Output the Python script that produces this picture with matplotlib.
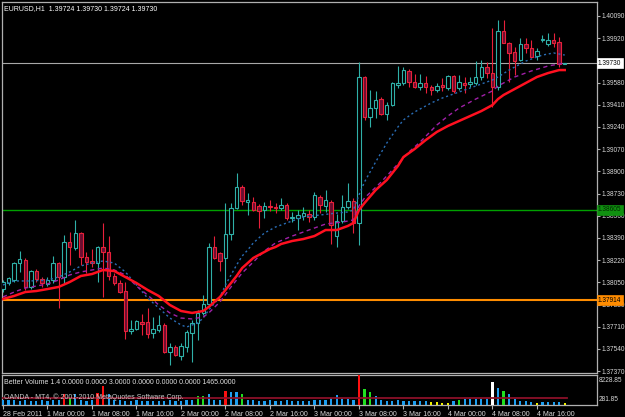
import matplotlib
matplotlib.use("Agg")
import matplotlib.pyplot as plt
import numpy as np

# ---------------- data ----------------
symbol_header = "EURUSD,H1  1.39724 1.39730 1.39724 1.39730"
opens = [1.38000,1.38045,1.38068,1.38198,1.38221,1.38015,1.38137,1.38076,1.38037,1.38068,
         1.38198,1.38091,1.38359,1.38313,1.38428,1.38244,1.38214,1.38198,1.38321,1.38283,
         1.38099,1.38045,1.37984,1.37677,1.37693,1.37747,1.37747,1.37662,1.37685,1.37724,
         1.37517,1.37555,1.37486,1.37555,1.37662,1.37739,1.37815,1.37884,1.38321,1.38275,
         1.38237,1.38421,1.38620,1.38781,1.38666,1.38666,1.38635,1.38604,1.38635,1.38627,
         1.38620,1.38643,1.38543,1.38543,1.38558,1.38574,1.38551,1.38704,1.38635,1.38666,
         1.38405,1.38520,1.38627,1.38673,1.38505,1.39623,1.39317,1.39386,1.39455,1.39340,
         1.39409,1.39562,1.39577,1.39669,1.39585,1.39547,1.39577,1.39547,1.39524,1.39562,
         1.39539,1.39631,1.39539,1.39577,1.39570,1.39577,1.39623,1.39700,1.39654,1.39547,
         1.39976,1.39884,1.39815,1.39753,1.39876,1.39845,1.39784,1.39907,1.39876,1.39907,
         1.39891,1.39724]
highs = [1.38068,1.38091,1.38206,1.38290,1.38237,1.38145,1.38153,1.38091,1.38091,1.38252,
         1.38206,1.38413,1.38436,1.38528,1.38436,1.38283,1.38306,1.38329,1.38505,1.38405,
         1.38122,1.38068,1.38053,1.37762,1.37762,1.37808,1.37853,1.37785,1.37800,1.37739,
         1.37586,1.37570,1.37586,1.37685,1.37762,1.37838,1.37953,1.38352,1.38405,1.38283,
         1.38658,1.38658,1.38888,1.38796,1.38735,1.38704,1.38650,1.38666,1.38681,1.38658,
         1.38696,1.38658,1.38589,1.38604,1.38627,1.38604,1.38742,1.38719,1.38758,1.38681,
         1.38574,1.38719,1.38811,1.38696,1.39738,1.39631,1.39524,1.39516,1.39470,1.39432,
         1.39585,1.39707,1.39700,1.39684,1.39646,1.39646,1.39631,1.39562,1.39577,1.39616,
         1.39639,1.39639,1.39639,1.39623,1.39623,1.39746,1.39753,1.39738,1.39998,1.40060,
         1.40060,1.39891,1.39853,1.39922,1.39922,1.39907,1.39845,1.39945,1.39960,1.39960,
         1.39930,1.39730]
lows = [1.37977,1.38030,1.38053,1.38130,1.37992,1.38000,1.38053,1.38015,1.38022,1.38045,
        1.37853,1.38045,1.38183,1.38298,1.38183,1.38122,1.38168,1.38053,1.37938,1.38068,
        1.38030,1.37969,1.37616,1.37654,1.37685,1.37647,1.37624,1.37624,1.37670,1.37509,
        1.37417,1.37486,1.37455,1.37517,1.37440,1.37609,1.37800,1.37877,1.38229,1.38137,
        1.38015,1.38375,1.38612,1.38643,1.38566,1.38597,1.38467,1.38543,1.38597,1.38581,
        1.38604,1.38528,1.38513,1.38451,1.38528,1.38513,1.38528,1.38581,1.38589,1.38344,
        1.38321,1.38505,1.38612,1.38428,1.38336,1.39294,1.39240,1.39309,1.39332,1.39294,
        1.39401,1.39539,1.39562,1.39547,1.39539,1.39524,1.39501,1.39486,1.39509,1.39516,
        1.39524,1.39501,1.39524,1.39501,1.39547,1.39562,1.39600,1.39616,1.39393,1.39524,
        1.39884,1.39585,1.39639,1.39746,1.39807,1.39776,1.39753,1.39891,1.39861,1.39853,
        1.39700,1.39724]
closes = [1.38053,1.38083,1.38198,1.38229,1.38015,1.38137,1.38076,1.38045,1.38068,1.38198,
          1.38091,1.38359,1.38321,1.38428,1.38244,1.38206,1.38198,1.38321,1.38283,1.38099,
          1.38045,1.37977,1.37677,1.37693,1.37754,1.37731,1.37654,1.37693,1.37724,1.37517,
          1.37555,1.37494,1.37563,1.37670,1.37739,1.37815,1.37884,1.38321,1.38237,1.38214,
          1.38421,1.38620,1.38781,1.38673,1.38681,1.38604,1.38597,1.38635,1.38627,1.38620,
          1.38643,1.38543,1.38551,1.38566,1.38581,1.38551,1.38719,1.38643,1.38681,1.38490,
          1.38520,1.38627,1.38673,1.38505,1.39623,1.39317,1.39386,1.39447,1.39340,1.39409,
          1.39577,1.39577,1.39677,1.39585,1.39547,1.39577,1.39547,1.39524,1.39554,1.39547,
          1.39631,1.39516,1.39585,1.39562,1.39585,1.39623,1.39700,1.39654,1.39547,1.39976,
          1.39884,1.39807,1.39746,1.39876,1.39845,1.39776,1.39822,1.39914,1.39907,1.39884,
          1.39723,1.39730]

# moving averages (bar index -> price)
fast_ma_idx = [0,2,5,8,10,12,14,16,18,20,22,24,26,28,30,32,33,35,36,37,39,40,41,42,43,44,45,47,49,51,
               54,57,60,62,63,64,65,67,69,71,72,74,77,79,82,85,88,89,91,94,97,99,101]
fast_ma_val = [1.38030,1.38061,1.38061,1.38068,1.38091,1.38130,1.38176,1.38198,1.38214,1.38198,
               1.38130,1.38030,1.37930,1.37854,1.37777,1.37724,1.37708,1.37739,1.37777,1.37839,
               1.37938,1.38030,1.38107,1.38183,1.38252,1.38298,1.38352,1.38428,1.38474,1.38505,
               1.38551,1.38566,1.38581,1.38589,1.38604,1.38719,1.38819,1.38972,1.39117,1.39240,
               1.39294,1.39355,1.39424,1.39462,1.39508,1.39554,1.39600,1.39623,1.39676,1.39745,
               1.39791,1.39807,1.39791]
mid_ma_idx = [0,2,4,6,8,10,12,14,16,18,20,22,24,26,28,30,32,34,36,37,39,41,43,45,47,49,52,55,58,61,
              63,64,65,68,70,73,75,78,80,82,85,88,89,92,95,98,101]
mid_ma_val = [1.37938,1.37976,1.38007,1.38022,1.38038,1.38068,1.38107,1.38130,1.38145,1.38160,
              1.38145,1.38107,1.38022,1.37953,1.37877,1.37816,1.37777,1.37770,1.37785,1.37816,
              1.37900,1.38015,1.38122,1.38206,1.38290,1.38352,1.38405,1.38451,1.38497,1.38512,
              1.38528,1.38635,1.38696,1.38819,1.38911,1.39049,1.39125,1.39255,1.39324,1.39385,
              1.39454,1.39516,1.39554,1.39623,1.39669,1.39707,1.39730]
slow_ma_idx = [0,2,4,6,8,10,12,14,16,18,20,22,24,26,28,30,32,34,36,37,38,39,40,41,42,43,44,45,46,47,
               48,49,50,52,54,56,58,60,62,63,64,65,67,69,71,72,74,76,78,80,82,84,86,88,89,90,92,94,96,
               98,100,101]
slow_ma_val = [1.37923,1.37946,1.37976,1.37984,1.37999,1.38015,1.38053,1.38099,1.38114,1.38145,
               1.38137,1.38091,1.38045,1.37992,1.37946,1.37877,1.37831,1.37816,1.37831,1.37862,
               1.37900,1.37938,1.37992,1.38045,1.38099,1.38160,1.38198,1.38237,1.38260,1.38283,
               1.38306,1.38321,1.38344,1.38367,1.38382,1.38405,1.38451,1.38451,1.38482,1.38505,
               1.38604,1.38658,1.38757,1.38834,1.38941,1.39010,1.39071,1.39140,1.39202,1.39248,
               1.39286,1.39324,1.39362,1.39408,1.39454,1.39485,1.39531,1.39577,1.39623,1.39653,
               1.39676,1.39676]

price_ticks = [1.40090,1.39920,1.39750,1.39580,1.39410,1.39240,1.39070,1.38900,1.38730,1.38560,
               1.38390,1.38220,1.38050,1.37880,1.37710,1.37540,1.37370]
bid_level = 1.39730
green_level = 1.38605
orange_level = 1.37914

volumes = [1500,1550,1500,1450,1500,1400,1450,1500,1400,1500,
           1600,3225,1800,3078,1500,1450,1600,3579,5197,3225,
           1600,1500,1450,1400,1500,1450,1400,1350,1400,1450,
           1500,1400,1450,1600,1700,2637,2700,3078,1700,1600,
           4049,3608,3608,3150,1700,1500,1400,1450,1500,1400,
           1450,1500,1400,1450,1400,1450,1665,1665,1665,2254,
           2843,1842,1842,1665,8228,4609,3608,2637,1665,1253,
           1253,1665,1253,1253,1253,1253,1459,1077,959,871,
           871,1253,1665,1842,1842,1842,1842,1842,6375,4903,
           4108,3225,1842,1459,1253,959,871,1077,1150,1150,
           1150,700]
vol_kind = list("bbbbbbbbbb"
                "brgbbbbrrb"
                "bbbbbbbbbb"
                "bbbbbggbbb"
                "rbbgbbbbbb"
                "bbbbbbbbbb"
                "bbbbrggbbb"
                "bbbbbbbyyy"
                "ybgbbbbbwb"
                "gbbbbbybbb"
                "by")
vol_avg = 2050
vol_max_label = "8228.85"
vol_min_label = "281.85"
vol_header = "Better Volume 1.4 0.0000 0.0000 3.0000 0.0000 0.0000 0.0000 1465.0000"
copyright_text = "OANDA - MT4, \u00a9 2001-2010 MetaQuotes Software Corp."

time_tick_bars = [0,8,16,24,32,40,48,56,64,72,80,88,96]
time_tick_labels = ["28 Feb 2011","1 Mar 00:00","1 Mar 08:00","1 Mar 16:00","2 Mar 00:00",
                    "2 Mar 08:00","2 Mar 16:00","3 Mar 00:00","3 Mar 08:00","3 Mar 16:00",
                    "4 Mar 00:00","4 Mar 08:00","4 Mar 16:00"]

# ---------------- style ----------------
plt.rcParams['font.family'] = ['Liberation Sans', 'DejaVu Sans']
FS = 4.7
W, H = 625, 417
fig = plt.figure(figsize=(W/100, H/100), dpi=100, facecolor='black')

def frac_rect(x0, y0, x1, y1):
    return [x0/W, 1 - y1/H, (x1-x0)/W, (y1-y0)/H]

ax = fig.add_axes(frac_rect(2, 2, 597, 373))
axv = fig.add_axes(frac_rect(2, 375, 597, 405), sharex=ax)
BORDER = '#b0b0b0'
for a in (ax, axv):
    a.set_facecolor('black')
    for s in a.spines.values():
        s.set_color(BORDER)
        s.set_linewidth(0.9)

n = len(closes)
x = np.arange(n)
ax.set_xlim(-0.18, 106.8)
ax.set_ylim(1.373560, 1.401972)

bull_edge = '#2fb0a8'
bear_edge = '#e8203a'
bear_fill = '#6a0d30'
for i in range(n):
    o, h, l, c = opens[i], highs[i], lows[i], closes[i]
    bull = c >= o
    col = bull_edge if bull else bear_edge
    ax.vlines(i, l, h, color=col, lw=0.8, zorder=3)
    lo = min(o, c)
    ht = abs(c - o)
    ax.bar(i, ht, bottom=lo, width=0.62, facecolor='black' if bull else bear_fill,
           edgecolor=col, linewidth=0.8, zorder=4)

ax.plot(fast_ma_idx, fast_ma_val, color='#2a6db5', lw=1.0, ls=(0, (1.5, 2)), zorder=5)
ax.plot(mid_ma_idx, mid_ma_val, color='#a020a8', lw=1.0, ls=(0, (3, 2.5)), zorder=5)
ax.plot(slow_ma_idx, slow_ma_val, color='#ff1020', lw=1.8, zorder=6)

ax.axhline(bid_level, color='#a8a8a8', lw=0.8, zorder=2)
ax.axhline(green_level, color='#00a000', lw=1.0, zorder=2)
ax.axhline(orange_level, color='#ff8c00', lw=1.5, zorder=2)

hidden = {1.39750}
ax.yaxis.tick_right()
ax.set_yticks(price_ticks)
ax.set_yticklabels(["" if v in hidden else f"{v:.5f}" for v in price_ticks])
ax.tick_params(axis='y', colors=BORDER, labelcolor='#d8d8d8', labelsize=FS, length=2.5,
               width=0.8, pad=1.0, direction='out')
ax.tick_params(axis='x', bottom=False, labelbottom=False)

def price_box(val, txt, fc, tc):
    ax.text(1.0015, val, txt, transform=ax.get_yaxis_transform(), ha='left', va='center',
            fontsize=FS, color=tc, zorder=10, clip_on=False,
            bbox=dict(boxstyle='square,pad=0.2', fc=fc, ec=fc, lw=0.5))

price_box(bid_level, "1.39730", 'white', 'black')
price_box(green_level, "1.38605", '#109010', '#002800')
price_box(orange_level, "1.37914", '#ff8c00', 'black')

ax.text(0.004, 0.993, symbol_header, transform=ax.transAxes, ha='left', va='top',
        fontsize=5.0, color='white', zorder=10)

# volume pane
color_map = {'b': '#1e9ff0', 'r': '#ff1010', 'g': '#20e020', 'w': '#ffffff', 'y': '#f0f000'}
axv.set_ylim(281.85, 8228.85)
axv.bar(x, np.array(volumes) - 281.85, bottom=281.85, width=0.4,
        color=[color_map[k] for k in vol_kind], zorder=3)
axv.plot([-0.18, n - 1 + 0.4], [vol_avg, vol_avg], color='#8b1028', lw=1.3, zorder=4)
axv.set_yticks([])
axv.text(1.003, 0.93, vol_max_label, transform=axv.transAxes, ha='left', va='top',
         fontsize=FS, color='#d8d8d8', clip_on=False)
axv.text(1.003, 0.08, vol_min_label, transform=axv.transAxes, ha='left', va='bottom',
         fontsize=FS, color='#d8d8d8', clip_on=False)
axv.text(0.004, 0.86, vol_header, transform=axv.transAxes, ha='left', va='top',
         fontsize=5.0, color='#e0e0e0', zorder=10)
axv.text(0.004, 0.12, copyright_text, transform=axv.transAxes, ha='left', va='bottom',
         fontsize=5.0, color='#c8c8c8', zorder=10)

axv.set_xticks(time_tick_bars)
axv.set_xticklabels(time_tick_labels, ha='left')
axv.tick_params(axis='x', colors=BORDER, labelcolor='#d8d8d8', labelsize=5.0, length=3,
                width=0.8, pad=1.5, direction='out')

fig.savefig('out.png', dpi=100, facecolor='black')
